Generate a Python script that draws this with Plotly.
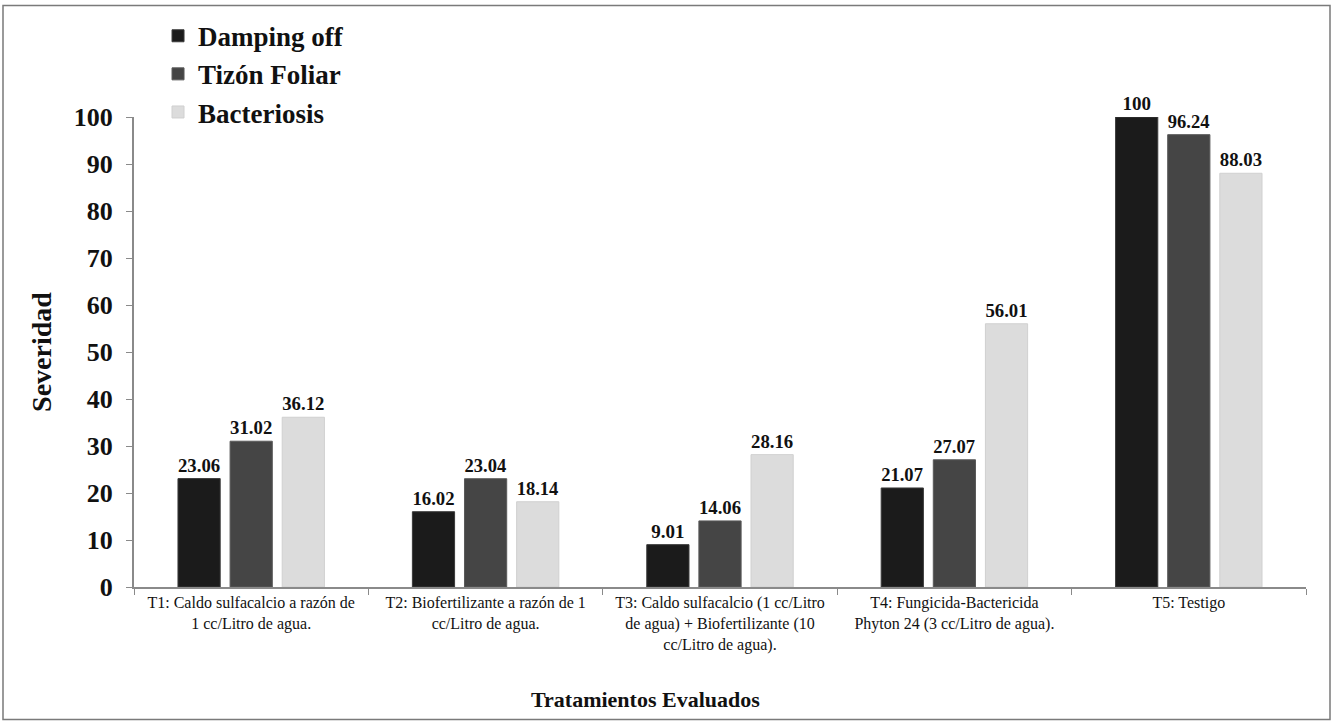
import plotly.graph_objects as go

# Treatments (x categories) with their wrapped tick labels
tratamientos = ["T1", "T2", "T3", "T4", "T5"]
etiquetas = [
    "T1: Caldo sulfacalcio a razón de<br>1 cc/Litro de agua.",
    "T2: Biofertilizante a razón de 1<br>cc/Litro de agua.",
    "T3: Caldo sulfacalcio (1 cc/Litro<br>de agua) + Biofertilizante (10<br>cc/Litro de agua).",
    "T4: Fungicida-Bactericida<br>Phyton 24 (3 cc/Litro de agua).",
    "T5: Testigo",
]

# Severity per disease
damping_off = [23.06, 16.02, 9.01, 21.07, 100]
tizon_foliar = [31.02, 23.04, 14.06, 27.07, 96.24]
bacteriosis = [36.12, 18.14, 28.16, 56.01, 88.03]

serie_nombres = ["Damping off", "Tizón Foliar", "Bacteriosis"]
serie_valores = [damping_off, tizon_foliar, bacteriosis]
serie_colores = ["#1b1b1b", "#454545", "#dcdcdc"]
serie_bordes = ["#3a3a3a", "#5a5a5a", "#d0d0d0"]

SERIF = "Liberation Serif, Times New Roman, serif"

fig = go.Figure()
for nombre, valores, color, borde in zip(serie_nombres, serie_valores, serie_colores, serie_bordes):
    fig.add_trace(go.Bar(
        x=tratamientos,
        y=valores,
        name=nombre,
        marker=dict(color=color, line=dict(color=borde, width=1)),
        text=[f"{v:g}" for v in valores],
        textposition="outside",
        textfont=dict(family=SERIF, size=19, color="#111111", weight="bold"),
        cliponaxis=False,
    ))

fig.update_layout(
    width=1333,
    height=721,
    margin=dict(l=134, r=27, t=115, b=134),
    paper_bgcolor="white",
    plot_bgcolor="white",
    barmode="group",
    bargap=0.333,
    bargroupgap=0.19,
    font=dict(family=SERIF, color="#111111"),
    showlegend=True,
    legend=dict(
        x=0.0205, y=1.224, xanchor="left", yanchor="top",
        font=dict(family=SERIF, size=27, color="#111111", weight="bold"),
        bgcolor="rgba(0,0,0,0)",
        tracegroupgap=0,
        itemwidth=30,
    ),
    xaxis=dict(
        tickmode="array",
        tickvals=tratamientos,
        ticktext=etiquetas,
        tickfont=dict(family=SERIF, size=16, color="#111111"),
        showline=True, linecolor="#8a8a8a", linewidth=2,
        ticks="outside", tickson="boundaries", ticklen=6, tickcolor="#8a8a8a",
        showgrid=False, zeroline=False,
    ),
    yaxis=dict(
        range=[0, 100],
        dtick=10,
        tickfont=dict(family=SERIF, size=26, color="#111111", weight="bold"),
        ticklabelstandoff=8,
        showline=True, linecolor="#8a8a8a", linewidth=2,
        ticks="outside", ticklen=6, tickcolor="#8a8a8a",
        showgrid=False, zeroline=False,
        title=dict(text="Severidad", font=dict(family=SERIF, size=28, color="#111111", weight="bold"), standoff=14),
    ),
    annotations=[
        dict(
            text="Tratamientos Evaluados",
            xref="paper", yref="paper",
            x=(645 - 134) / 1172, y=(587 - 700) / 472,
            xanchor="center", yanchor="middle",
            showarrow=False,
            font=dict(family=SERIF, size=22, color="#111111", weight="bold"),
        )
    ],
    shapes=[
        dict(
            type="rect", xref="paper", yref="paper",
            x0=(3 - 134) / 1172, x1=(1330 - 134) / 1172,
            y0=(587 - 720) / 472, y1=(587 - 3) / 472,
            line=dict(color="#7a7a7a", width=1.5),
            fillcolor="rgba(0,0,0,0)",
        )
    ],
)

fig.write_html("out.html")
